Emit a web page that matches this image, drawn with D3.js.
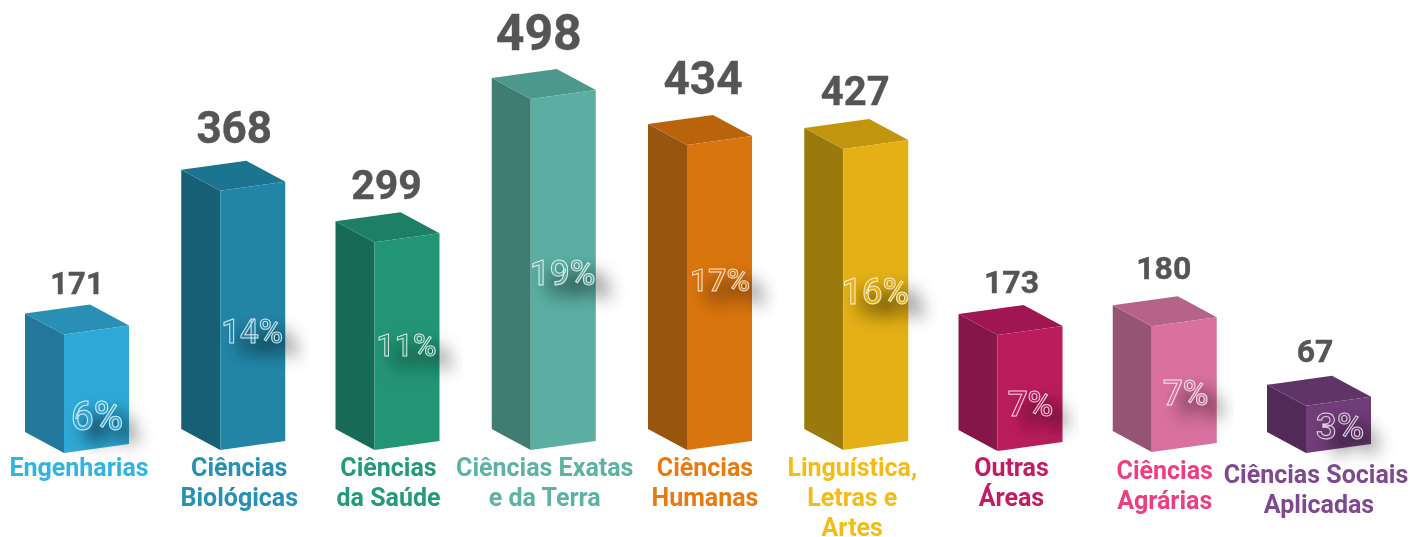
<!DOCTYPE html>
<html><head><meta charset="utf-8">
<script src="https://cdn.jsdelivr.net/npm/d3@7"></script>
<style>html,body{margin:0;padding:0;background:#fff}svg{display:block}text{font-family:Roboto,sans-serif}</style>
</head><body><svg id="c" width="1412" height="537"></svg>
<script>
const categories=[["Engenharias"],["Ciências","Biológicas"],["Ciências","da Saúde"],["Ciências Exatas","e da Terra"],["Ciências","Humanas"],["Linguística,","Letras e","Artes"],["Outras","Áreas"],["Ciências","Agrárias"],["Ciências Sociais","Aplicadas"]];
const values=[171,368,299,498,434,427,173,180,67];
const percents=[6,14,11,19,17,16,7,7,3];
const frontColors=["#2fa8d6","#2285a8","#219574","#5baea2","#d97410","#e4b013","#ba1b5c","#d9709f","#6f3c78"];
const sideColors=["#23779a","#185f75","#186b56","#3f7b71","#97540a","#9a7a0d","#85134a","#955274","#512c58"];
const topColors=["#2a8fb5","#1e7590","#1c7f66","#4e978d","#b9640d","#c19610","#9f1652","#b5638b","#5f3568"];
const labelColors=["#2fb5e4","#2590b5","#229a7c","#5bb3a5","#ea7a10","#f5bc14","#c41b62","#ef3e82","#7f4a90"];
// layout tweaks (not data)
const xNudge=[0,1,0,1,2,3,2,1,0];
const baseNudge=[3,0,0,0,0,0,1,2,3];
const topNudge=[2,0,3,0,1,0,6,1,0];
const valueSize=[31,44,41,50,46,40,32,32,32];
const valueDx=[0,1,-1,-5,3,-1,1,-1,-4];
const valueDy=[1,-2,2,-1,-5,0,-1,-6,-2];
const pctSize=[40,33,32,35,32,36,35,35,37];
const pctDx=[0,-1,-1,-1,0,-1,0,1,1];
const pctY=[430,343,356,285,291,304,416,405,439];
const labelBase=[476,476,476,476,476,476,476,479,483];
const labelDx=[2,6,1,1,5,-4,1,0,-3];

const svg=d3.select("#c");
const defs=svg.append("defs");
const f=defs.append("filter").attr("id","blur").attr("x","-70%").attr("y","-120%").attr("width","240%").attr("height","340%");
f.append("feGaussianBlur").attr("stdDeviation",9);
const f2=defs.append("filter").attr("id","soft");
f2.append("feGaussianBlur").attr("stdDeviation",0.35);

const x=d3.scalePoint().domain(d3.range(categories.length)).range([25,1267]);
const h=d3.scaleLinear().domain([0,498]).range([0,351]);
const baseY=450, side=39, faceW=65, drop=21, slope=9;

const g=svg.selectAll("g.bar").data(values).join("g").attr("class","bar").attr("filter","url(#soft)");
g.each(function(v,i){
  const s=d3.select(this);
  const x0=x(i)+xNudge[i], xF=x0+side, xR=xF+faceW, b=baseY+baseNudge[i], t=b-h(v)+topNudge[i];
  const line=d3.line();
  s.append("path").attr("fill",sideColors[i]).attr("d",line([[x0,t-drop],[xF,t],[xF,b],[x0,b-drop]])+"Z");
  s.append("path").attr("fill",topColors[i]).attr("d",line([[x0,t-drop],[xR-side,t-drop-slope],[xR,t-slope],[xF,t]])+"Z");
  s.append("path").attr("fill",frontColors[i]).attr("d",line([[xF,t],[xR,t-slope],[xR,b-slope],[xF,b]])+"Z");
  const cx=xF+33+pctDx[i];
  s.append("text").attr("x",cx+14).attr("y",pctY[i]+12).attr("text-anchor","middle").attr("font-size",pctSize[i]).attr("font-weight",900).attr("fill","#000").attr("fill-opacity",.8).attr("filter","url(#blur)").text(percents[i]+"%");
  s.append("text").attr("x",cx).attr("y",pctY[i]).attr("text-anchor","middle").attr("font-size",pctSize[i]).attr("font-weight",500).attr("fill",frontColors[i]).attr("stroke","#fff").attr("stroke-opacity",.8).attr("stroke-width",1).text(percents[i]+"%");
  s.append("text").attr("x",x0+52+valueDx[i]).attr("y",t-drop-slope-valueSize[i]*0.36+valueDy[i]).attr("text-anchor","middle").attr("font-size",valueSize[i]).attr("font-weight",700).attr("fill","#555").attr("stroke","#555").attr("stroke-width",.4).text(v);
  const lab=s.append("text").attr("text-anchor","middle").attr("font-size",25).attr("font-weight",700).attr("fill",labelColors[i]);
  categories[i].forEach((l,k)=>lab.append("tspan").attr("x",x0+52+labelDx[i]+(i===8&&k===1?3:0)).attr("y",labelBase[i]+k*30).text(l));
});
</script></body></html>
